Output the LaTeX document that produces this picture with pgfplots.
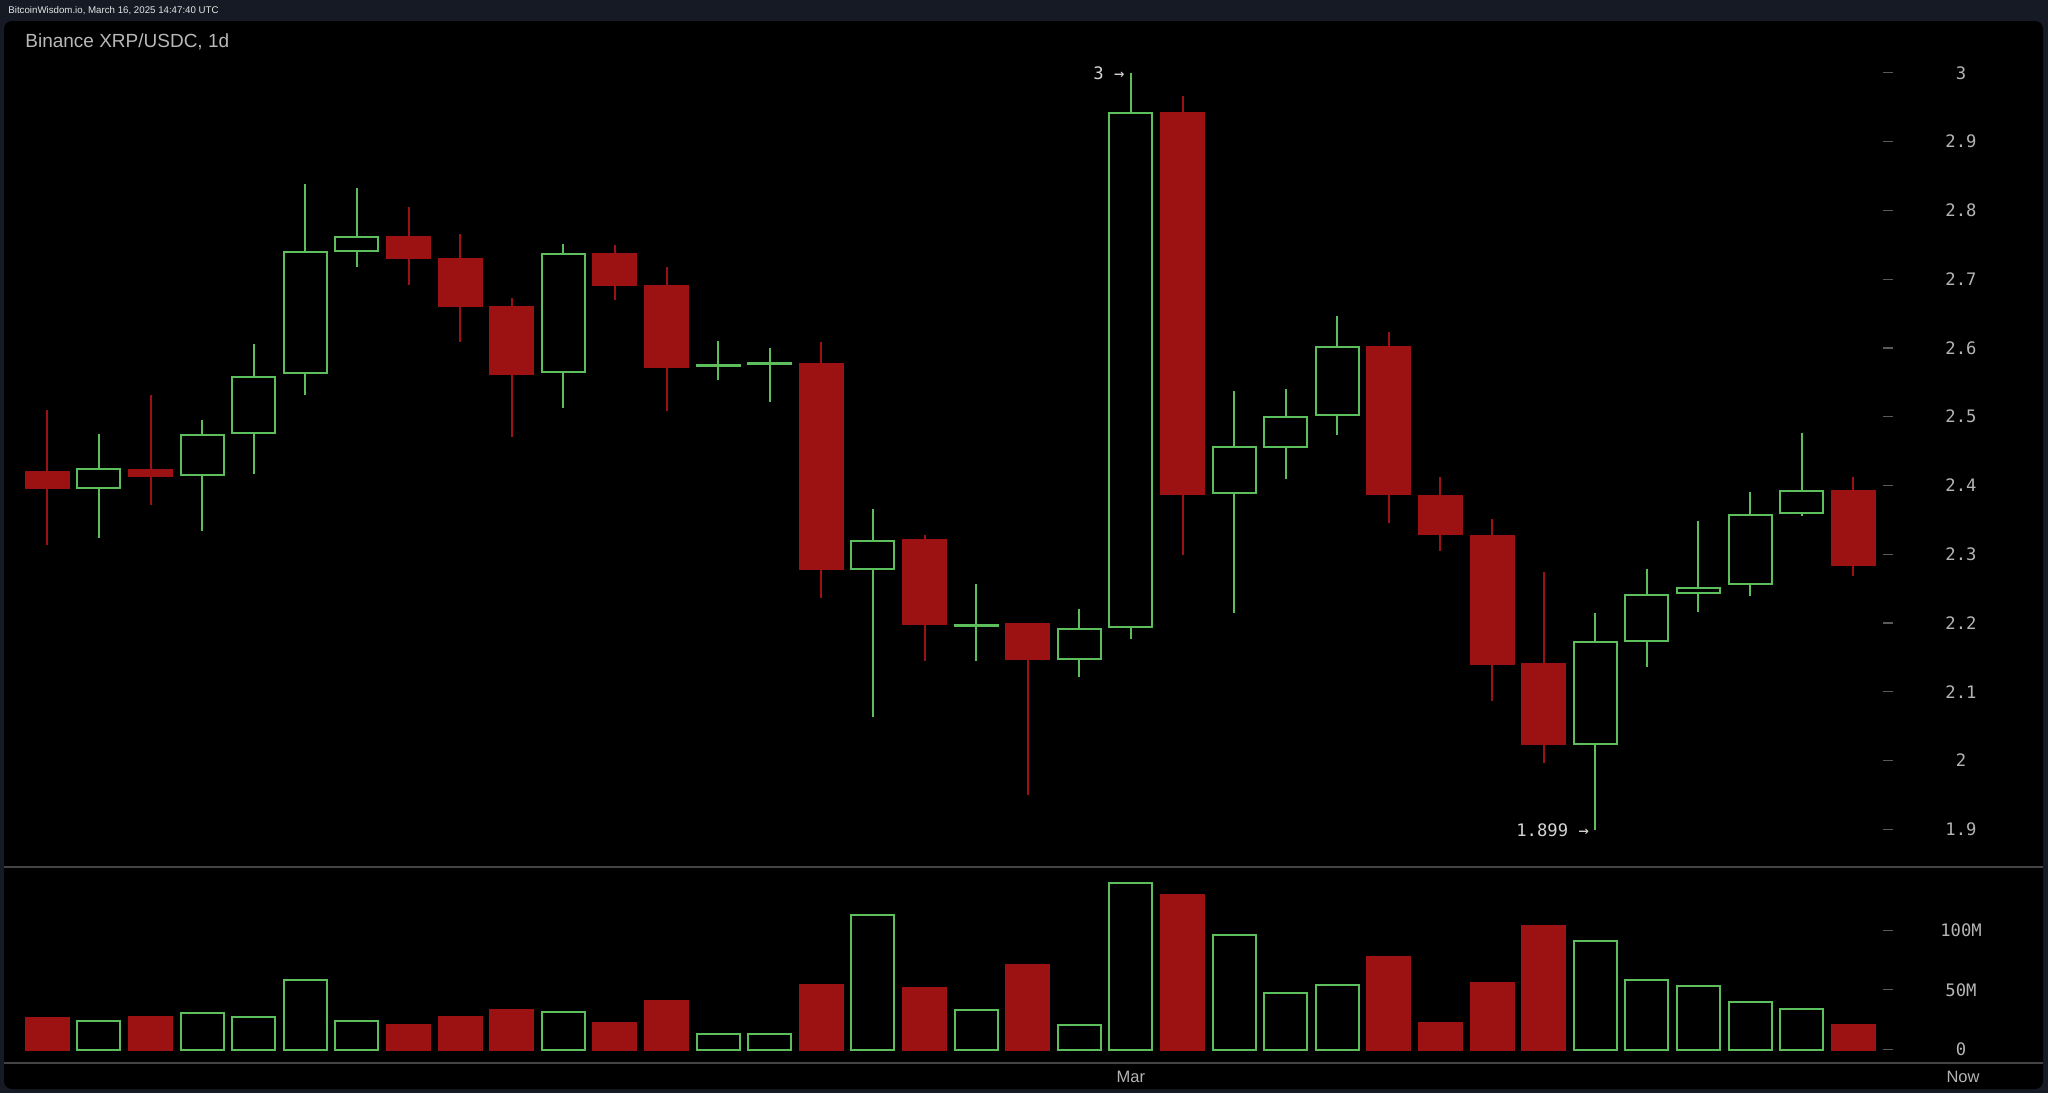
\documentclass[border=0pt]{standalone}
\usepackage{fontspec}
\setmainfont{Liberation Sans}
\newfontfamily\mono{DejaVu Sans Mono}
\usepackage{pgfplots}
\usepackage{pgfplotstable}
\pgfplotsset{compat=1.18}
\usepgfplotslibrary{statistics}

\definecolor{framebg}{HTML}{151A24}
\definecolor{cgreen}{HTML}{5CBF5C}
\definecolor{cred}{HTML}{9C1111}
\definecolor{lblgray}{HTML}{B4B4B4}
\definecolor{annot}{HTML}{D4D4D4}
\definecolor{tickgray}{HTML}{5A5A5A}
\definecolor{sepgray}{HTML}{444444}

\newcommand\ticksf{\mono\fontsize{8.6pt}{10pt}\selectfont}
\newcommand\labsf{\fontsize{8.25pt}{10pt}\selectfont}

\pgfplotstableread{
k open high low close vred vgreen
0 2.420 2.510 2.313 2.396 26.2 nan
1 2.396 2.475 2.324 2.424 nan 23.5
2 2.422 2.531 2.372 2.414 27.6 nan
3 2.415 2.495 2.334 2.474 nan 30.2
4 2.476 2.606 2.417 2.558 nan 27.6
5 2.563 2.838 2.531 2.739 nan 58.6
6 2.741 2.833 2.717 2.762 nan 23.5
7 2.762 2.805 2.691 2.731 20.9 nan
8 2.730 2.765 2.609 2.661 27.6 nan
9 2.659 2.672 2.470 2.562 33.2 nan
10 2.565 2.751 2.512 2.737 nan 31.5
11 2.737 2.750 2.670 2.692 22.3 nan
12 2.690 2.717 2.508 2.572 41.0 nan
13 2.573 2.610 2.553 2.575 nan 12.6
14 2.576 2.600 2.522 2.578 nan 12.6
15 2.577 2.608 2.236 2.278 54.4 nan
16 2.278 2.366 2.064 2.319 nan 112.5
17 2.321 2.328 2.145 2.198 51.9 nan
18 2.195 2.256 2.145 2.197 nan 32.7
19 2.198 2.200 1.950 2.148 70.6 nan
20 2.148 2.221 2.122 2.191 nan 20.7
21 2.194 3.000 2.177 2.941 nan 139.3
22 2.941 2.967 2.299 2.387 129.0 nan
23 2.389 2.538 2.214 2.456 nan 96.3
24 2.456 2.540 2.410 2.500 nan 47.5
25 2.502 2.646 2.473 2.601 nan 54.4
26 2.601 2.623 2.345 2.387 77.6 nan
27 2.385 2.412 2.305 2.329 22.3 nan
28 2.327 2.351 2.087 2.141 55.8 nan
29 2.140 2.274 1.996 2.024 103.3 nan
30 2.024 2.215 1.899 2.172 nan 90.7
31 2.174 2.278 2.136 2.240 nan 58.3
32 2.243 2.348 2.216 2.251 nan 53.0
33 2.256 2.390 2.239 2.357 nan 39.6
34 2.360 2.477 2.355 2.392 nan 34.1
35 2.392 2.412 2.269 2.284 20.7 nan
}\ohlc

\pgfplotsset{
  gc/.style={draw=cgreen, fill=black, line width=1pt, solid, mark=none},
  rc/.style={draw=cred, fill=cred, line width=1pt, solid, mark=none},
}

% one candle per table row: #1 row, #2 g or r
\newcommand\candle[2]{%
  \pgfplotstablegetelem{#1}{open}\of\ohlc \let\cdO\pgfplotsretval
  \pgfplotstablegetelem{#1}{high}\of\ohlc \let\cdH\pgfplotsretval
  \pgfplotstablegetelem{#1}{low}\of\ohlc \let\cdL\pgfplotsretval
  \pgfplotstablegetelem{#1}{close}\of\ohlc \let\cdC\pgfplotsretval
  \ifx#2g%
    \edef\cdcmd{\noexpand\addplot[gc, boxplot prepared={draw position=#1,
      lower whisker=\cdL, lower quartile=\cdO, median=\cdO,
      upper quartile=\cdC, upper whisker=\cdH}] coordinates {};}%
  \else
    \edef\cdcmd{\noexpand\addplot[rc, boxplot prepared={draw position=#1,
      lower whisker=\cdL, lower quartile=\cdC, median=\cdC,
      upper quartile=\cdO, upper whisker=\cdH}] coordinates {};}%
  \fi
  \cdcmd
}

\begin{document}
\begin{tikzpicture}
% frame and panel
\fill[framebg] (0,0) rectangle (1024pt,-546.5pt);
\fill[black, rounded corners=4pt] (2pt,-10.5pt) rectangle (1021.5pt,-544.5pt);
\draw[sepgray, line width=1pt] (2pt,-433.5pt) -- (1021.5pt,-433.5pt);
\draw[sepgray, line width=1pt] (2pt,-531.25pt) -- (1021.5pt,-531.25pt);
\node[anchor=west, inner sep=0pt, text=white!90!black, font=\fontsize{4.85pt}{6pt}\selectfont] at (4pt,-5.5pt) {BitcoinWisdom.io, March 16, 2025 14:47:40 UTC};
\node[anchor=west, inner sep=0pt, text=lblgray!95!white, font=\fontsize{9.5pt}{11pt}\selectfont] at (12.5pt,-20.85pt) {Binance XRP/USDC, 1d};

% price pane
\begin{axis}[
  at={(2pt,-433pt)}, anchor=south west,
  width=942pt, height=422pt, scale only axis,
  xmin=-0.841, xmax=35.674, ymin=1.84659, ymax=3.07387,
  axis line style={draw=none}, clip=false,
  xtick=\empty,
  ytick={1.9,2.0,2.1,2.2,2.3,2.4,2.5,2.6,2.7,2.8,2.9,3.0},
  yticklabels={1.9,2,2.1,2.2,2.3,2.4,2.5,2.6,2.7,2.8,2.9,3},
  ytick pos=right, yticklabel pos=right,
  tick align=center, major tick length=5pt,
  ytick style={draw=tickgray, line width=0.6pt},
  yticklabel style={anchor=center, xshift=34pt, text=lblgray, font=\ticksf},
  boxplot/draw direction=y,
  boxplot/box extend=0.833, boxplot/whisker extend=0,
]
\pgfplotsinvokeforeach{1,3,4,5,6,10,13,14,16,18,20,21,23,24,25,30,31,32,33,34}{\candle{#1}{g}}
\pgfplotsinvokeforeach{0,2,7,8,9,11,12,15,17,19,22,26,27,28,29,35}{\candle{#1}{r}}
\node[anchor=east, inner sep=0pt, xshift=-3pt, text=annot, font=\ticksf] at (axis cs:21,3.0) {3 →};
\node[anchor=east, inner sep=0pt, xshift=-3pt, text=annot, font=\ticksf] at (axis cs:30,1.899) {1.899 →};
% right-edge tick dashes of the price scale
\pgfplotsinvokeforeach{1.9,2.0,2.1,2.2,2.3,2.4,2.5,2.6,2.7,2.8,2.9,3.0}{
  \draw[tickgray, line width=0.6pt] (axis cs:35.674,#1) ++(73pt,0) -- ++(4pt,0);
}
\end{axis}

% volume pane
\begin{axis}[
  at={(2pt,-531.25pt)}, anchor=south west,
  width=942pt, height=97.25pt, scale only axis,
  xmin=-0.841, xmax=35.674, ymin=-10.89, ymax=152,
  axis line style={draw=none}, clip=false,
  xtick={21}, xticklabels={Mar}, xtick style={draw=none},
  xticklabel style={anchor=center, yshift=-4.75pt, text=lblgray, font=\labsf},
  ytick={0,50,100}, yticklabels={0,50M,100M},
  ytick pos=right, yticklabel pos=right,
  tick align=center, major tick length=5pt,
  ytick style={draw=tickgray, line width=0.6pt},
  yticklabel style={anchor=center, xshift=34pt, text=lblgray, font=\ticksf},
]
\addplot[ybar, bar width=0.833, bar shift=0pt, draw=cred, fill=cred, line width=1pt] table[x=k, y=vred]{\ohlc};
\addplot[ybar, bar width=0.833, bar shift=0pt, draw=cgreen, fill=black, line width=1pt] table[x=k, y=vgreen]{\ohlc};
\pgfplotsinvokeforeach{0,50,100}{
  \draw[tickgray, line width=0.6pt] (axis cs:35.674,#1) ++(73pt,0) -- ++(4pt,0);
}
\end{axis}

\node[anchor=center, text=lblgray, font=\labsf] at (981.5pt,-538.5pt) {Now};

\pgfresetboundingbox
\path[use as bounding box] (0,0) rectangle (1024pt,-546.5pt);
\end{tikzpicture}
\end{document}
